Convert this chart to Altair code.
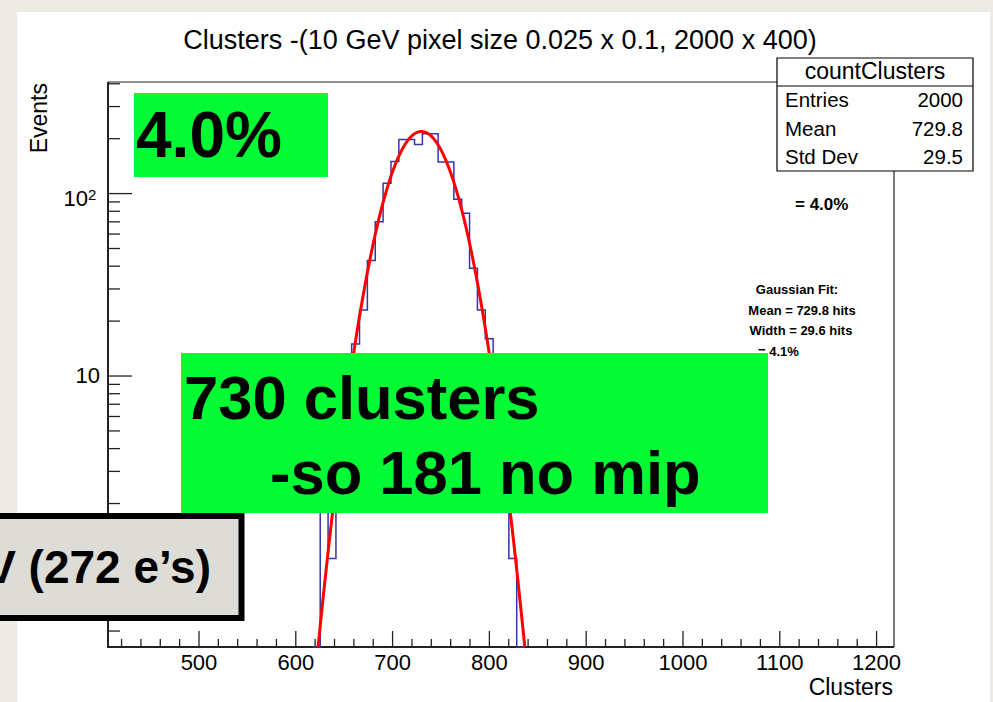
import math
import altair as alt
import pandas as pd

# ---------------------------------------------------------------- data
# histogram: 100 uniform bins over the axis range, counts per bin from bin 26 on
X_MIN, X_MAX = 406.0, 1218.0
BIN_WIDTH = 8.12
FIRST_BIN = 26
counts = [0, 2, 1, 5, 9, 15, 23, 43, 70, 114, 150, 198, 198, 186,
          213, 213, 149, 149, 93, 78, 39, 23, 16, 9, 3, 1, 0]

# gaussian fit parameters
FIT_CONST = 219.0
FIT_MEAN = 729.8
FIT_WIDTH = 29.6

# axis ticks
Y_MIN, Y_MAX = 0.327, 409.0
x_major = [500, 600, 700, 800, 900, 1000, 1100, 1200]
x_minor = [v for v in range(420, 1201, 20) if v % 100]
y_major = [1, 10, 100]
y_minor = [0.4, 0.5, 0.6, 0.7, 0.8, 0.9, 2, 3, 4, 5, 6, 7, 8, 9,
           20, 30, 40, 50, 60, 70, 80, 90, 200, 300, 400]

# stats box
stat_names = ["Entries", "Mean", "Std Dev"]
stat_values = ["2000", "729.8", "29.5"]

# ---------------------------------------------------------------- layout
LEFT, TOP = 108, 82          # plot-area origin on the page
W, H = 786, 565              # plot area size
PAGE_W, PAGE_H = 993, 702
FONT = "Liberation Sans"
GREEN = "#02fb34"
INK = "#222222"


def px(x):
    return x - LEFT


def py(y):
    return y - TOP


def one():
    return alt.Chart(pd.DataFrame({"k": [0]}))


def rect(x0, y0, x1, y1, fill, stroke=None, sw=0):
    kw = dict(fill=fill)
    if stroke:
        kw.update(stroke=stroke, strokeWidth=sw)
    return one().mark_rect(**kw).encode(
        x=alt.value(px(x0)), x2=alt.value(px(x1)),
        y=alt.value(py(y0)), y2=alt.value(py(y1)))


def hline(x0, x1, y, sw=1.0, color=INK):
    return one().mark_rule(color=color, strokeWidth=sw).encode(
        x=alt.value(px(x0)), x2=alt.value(px(x1)), y=alt.value(py(y)))


def vline(x, y0, y1, sw=1.0, color=INK):
    return one().mark_rule(color=color, strokeWidth=sw).encode(
        x=alt.value(px(x)), y=alt.value(py(y0)), y2=alt.value(py(y1)))


def text(s, x, y, size, bold=False, align="left", angle=0, color="black"):
    kw = dict(text=s, font=FONT, fontSize=size, align=align,
              baseline="middle", color=color,
              fontWeight="bold" if bold else "normal")
    if angle:
        kw["angle"] = angle
    return one().mark_text(**kw).encode(x=alt.value(px(x)), y=alt.value(py(y)))


xs = alt.Scale(domain=[X_MIN, X_MAX], nice=False, zero=False)
ys = alt.Scale(type="log", domain=[Y_MIN, Y_MAX], nice=False)

# ---------------------------------------------------------------- histogram
edges = [X_MIN + BIN_WIDTH * (FIRST_BIN + i) for i in range(len(counts) + 1)]
hist_df = pd.DataFrame({
    "x": edges,
    "n": [max(c, Y_MIN) for c in counts] + [Y_MIN],
})
hist = alt.Chart(hist_df).mark_line(
    interpolate="step-after", color="#3434ac", strokeWidth=1.5
).encode(x=alt.X("x:Q", scale=xs, axis=None),
         y=alt.Y("n:Q", scale=ys, axis=None))

fit_x = [600 + 0.5 * i for i in range(521)]
fit_df = pd.DataFrame({
    "x": fit_x,
    "n": [FIT_CONST * math.exp(-0.5 * ((v - FIT_MEAN) / FIT_WIDTH) ** 2) for v in fit_x],
})
fit = alt.Chart(fit_df).mark_line(color="#ff0000", strokeWidth=3, clip=True).encode(
    x=alt.X("x:Q", scale=xs, axis=None),
    y=alt.Y("n:Q", scale=ys, axis=None))

# ---------------------------------------------------------------- axes (inward ticks)
xmaj = alt.Chart(pd.DataFrame({"v": x_major})).mark_rule(color=INK, strokeWidth=1.3).encode(
    x=alt.X("v:Q", scale=xs, axis=None), y=alt.value(H), y2=alt.value(H - 16))
xmin = alt.Chart(pd.DataFrame({"v": x_minor})).mark_rule(color=INK, strokeWidth=1.3).encode(
    x=alt.X("v:Q", scale=xs, axis=None), y=alt.value(H), y2=alt.value(H - 8))
ymaj = alt.Chart(pd.DataFrame({"v": y_major})).mark_rule(color=INK, strokeWidth=1.3).encode(
    y=alt.Y("v:Q", scale=ys, axis=None), x=alt.value(0), x2=alt.value(24))
ymin = alt.Chart(pd.DataFrame({"v": y_minor})).mark_rule(color=INK, strokeWidth=1.3).encode(
    y=alt.Y("v:Q", scale=ys, axis=None), x=alt.value(0), x2=alt.value(12))

xlab = alt.Chart(pd.DataFrame({"v": x_major, "t": [str(v) for v in x_major]})).mark_text(
    font=FONT, fontSize=22, align="center", baseline="middle", color="black"
).encode(x=alt.X("v:Q", scale=xs, axis=None), y=alt.value(py(663)), text="t:N")

ylab = alt.Chart(pd.DataFrame({"v": [10], "t": ["10"]})).mark_text(
    font=FONT, fontSize=22, align="right", baseline="middle", color="black"
).encode(y=alt.Y("v:Q", scale=ys, axis=None), x=alt.value(px(100)), text="t:N")
ylab_hi = alt.Chart(pd.DataFrame({"v": [100], "t": ["10"]})).mark_text(
    font=FONT, fontSize=22, align="right", baseline="middle", color="black", dy=5
).encode(y=alt.Y("v:Q", scale=ys, axis=None), x=alt.value(px(88)), text="t:N")
ylab_exp = alt.Chart(pd.DataFrame({"v": [100], "t": ["2"]})).mark_text(
    font=FONT, fontSize=15, align="left", baseline="middle", color="black", dy=1
).encode(y=alt.Y("v:Q", scale=ys, axis=None), x=alt.value(px(88)), text="t:N")

frame = [
    hline(LEFT, LEFT + W, TOP, sw=1.2),
    vline(LEFT + W, TOP, TOP + H, sw=1.2),
    vline(LEFT, TOP, TOP + H + 1, sw=2),
    hline(LEFT - 1, LEFT + W, TOP + H, sw=2),
]

# ---------------------------------------------------------------- stats box
stats = [
    rect(777, 58, 973, 171, "white", stroke="black", sw=1.2),
    hline(777, 973, 86, sw=1.2, color="black"),
    text("countClusters", 875, 72, 23, align="center"),
]
for i, (nm, val) in enumerate(zip(stat_names, stat_values)):
    yy = 101 + 28.5 * i
    stats.append(text(nm, 785, yy, 20.5))
    stats.append(text(val, 963, yy, 20.5, align="right"))

# ---------------------------------------------------------------- text annotations
notes = [
    text("Clusters -(10 GeV pixel size 0.025 x 0.1, 2000 x 400)", 500, 41, 27, align="center"),
    text("Events", 40, 83, 23, align="right", angle=270),
    text("Clusters", 893, 688, 23, align="right"),
    text("= 4.0%", 795, 205, 17, bold=True),
    text("Gaussian Fit:", 797, 290, 13, bold=True, align="center"),
    text("Mean = 729.8 hits", 802, 311, 13, bold=True, align="center"),
    text("Width = 29.6 hits", 801, 331, 13, bold=True, align="center"),
    text("= 4.1%", 758, 352, 13, bold=True),
]

overlays = [
    rect(134, 93, 328, 177, GREEN),
    text("4.0%", 136, 138, 64, bold=True),
    rect(181, 353, 768, 513, GREEN),
    text("730 clusters", 184, 401, 61.5, bold=True),
    text("-so 181 no mip", 270, 476, 61.5, bold=True),
    rect(-12, 516, 241.5, 618, "#dddcd6", stroke="black", sw=6),
    text("V (272 e\u2019s)", 211, 569, 46, bold=True, align="right"),
]

canvas = rect(17, 12, 990, PAGE_H, "white")

chart = alt.layer(
    canvas, *frame, xmaj, xmin, ymaj, ymin, hist, fit,
    xlab, ylab, ylab_hi, ylab_exp, *stats, *notes, *overlays
).properties(
    width=W, height=H,
    padding={"left": LEFT, "top": TOP, "right": PAGE_W - LEFT - W, "bottom": PAGE_H - TOP - H},
    autosize=alt.AutoSizeParams(type="none"),
    background="#ecebe6",
).configure_view(strokeWidth=0)

chart.save("out.html", embed_options={"renderer": "svg", "actions": False})
